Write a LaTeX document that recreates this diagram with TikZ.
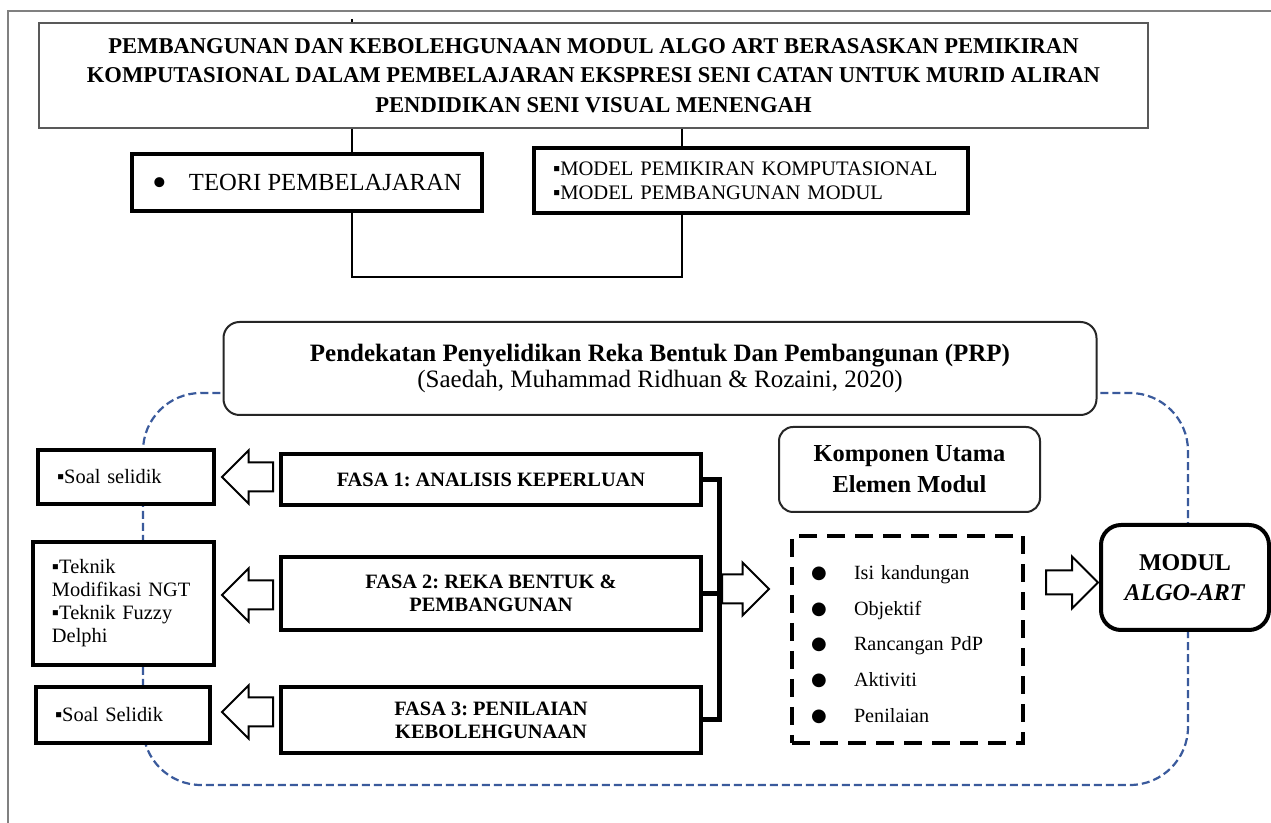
\documentclass[tikz,border=0pt]{standalone}
\usepackage{fontspec}
\setmainfont{Liberation Serif}
\newfontfamily\symfont{DejaVu Sans}
\usetikzlibrary{shapes.arrows}
\definecolor{prpblue}{HTML}{3A5A9C}
\tikzstyle{thinbox} = [draw=gray!70!black, line width=0.7pt, fill=white, inner sep=0pt]
\tikzstyle{thickbox} = [draw, line width=1.8pt, fill=white, inner sep=0pt]
\tikzstyle{listbox} = [thickbox, align=left, inner xsep=9.5pt]
\tikzstyle{roundbox} = [draw=black!85, line width=1pt, rounded corners=7pt, fill=white, inner sep=0pt]
\tikzstyle{hollow} = [single arrow, draw, line width=1pt, fill=white, inner xsep=0pt, inner ysep=6.75pt, single arrow head extend=6pt, minimum height=25.5pt, anchor=tail]
\tikzstyle{conn} = [line width=1.2pt]
\tikzstyle{bracket} = [line width=2.5pt]
\tikzstyle{prpframe} = [prpblue, line width=1.1pt, dash pattern=on 4pt off 2pt, rounded corners=29pt]
\newcommand{\sq}{▪}
\newcommand{\bigdot}[2]{\smash{\raisebox{#2}{\scalebox{#1}{\textbullet}}}}
\newcommand{\dotrow}[1]{\makebox[21.5pt][l]{\raisebox{0.5pt}{\symfont\fontsize{9}{9}\selectfont ●}}#1}
\frenchspacing

\begin{document}
\begin{tikzpicture}[x=0.5pt, y=-0.5pt]
\path[fill=white] (0,0) rectangle (1271,823);
\useasboundingbox (0,0) rectangle (1271,823);
% page frame
\draw[gray, line width=0.8pt] (8,823) -- (8,11) -- (1271,11);
% PRP frame
\draw[prpframe] (143,393) rectangle (1188,785);

% top part
\node[thinbox, minimum width=554.5pt, minimum height=52.5pt, align=center, font=\fontsize{11.3}{14.7}\selectfont\bfseries] (title) at (593.5,75.5)
  {PEMBANGUNAN DAN KEBOLEHGUNAAN MODUL ALGO ART BERASASKAN PEMIKIRAN\\
   KOMPUTASIONAL DALAM PEMBELAJARAN EKSPRESI SENI CATAN UNTUK MURID ALIRAN\\
   PENDIDIKAN SENI VISUAL MENENGAH};
\node[thickbox, minimum width=175pt, minimum height=28.5pt, font=\fontsize{12.3}{14}\selectfont] (teori) at (307,182.5)
  {\bigdot{1.7}{-0.24em}\hspace{11pt}TEORI PEMBELAJARAN};
\node[listbox, text width=198pt, minimum height=32.5pt, font=\fontsize{10.3}{12}\selectfont] (model) at (751,180.5)
  {\sq MODEL PEMIKIRAN KOMPUTASIONAL\\ \sq MODEL PEMBANGUNAN MODUL};

\coordinate (tick) at (352,19);
\coordinate (jn) at (682,277);
\draw[conn] (tick) -- (tick |- title.north);
\draw[conn] (tick |- title.south) -- (tick |- teori.north);
\draw[conn] (jn |- title.south) -- (jn |- model.north);
\draw[conn] (tick |- teori.south) |- (jn) -- (jn |- model.south);

% PRP
\node[roundbox, rounded corners=8pt, minimum width=436.5pt, minimum height=46.5pt, align=center, font=\fontsize{12.5}{13}\selectfont] (prp) at (660,368.5)
  {\textbf{Pendekatan Penyelidikan Reka Bentuk Dan Pembangunan (PRP)}\\
   (Saedah, Muhammad Ridhuan \& Rozaini, 2020)};

% fasa
\node[thickbox, minimum width=210pt, minimum height=25.5pt, align=center, font=\fontsize{10.2}{11.5}\selectfont\bfseries] (fasa1) at (491,479.5)
  {FASA 1: ANALISIS KEPERLUAN};
\node[thickbox, minimum width=210pt, minimum height=36.5pt, align=center, font=\fontsize{10.2}{11.5}\selectfont\bfseries] (fasa2) at (491,593.5)
  {FASA 2: REKA BENTUK \&\\PEMBANGUNAN};
\node[thickbox, minimum width=210pt, minimum height=33pt, align=center, font=\fontsize{10.2}{11.5}\selectfont\bfseries] (fasa3) at (491,720)
  {FASA 3: PENILAIAN\\KEBOLEHGUNAAN};

% kaedah
\node[listbox, text width=69pt, minimum height=27pt, font=\fontsize{10.2}{11.5}\selectfont] (soal1) at (126,477)
  {\sq Soal selidik};
\node[listbox, text width=71.5pt, minimum height=61.5pt, font=\fontsize{10.2}{11.5}\selectfont] (teknik) at (123.5,603.5)
  {\sq Teknik\\Modifikasi NGT\\\sq Teknik Fuzzy\\Delphi};
\node[listbox, text width=68pt, minimum height=28pt, font=\fontsize{10.2}{11.5}\selectfont] (soal3) at (123,715)
  {\sq Soal Selidik};

\node[hollow, shape border rotate=180] (back1) at (274,477) {};
\node[hollow, shape border rotate=180] (back2) at (274,595) {};
\node[hollow, shape border rotate=180] (back3) at (274,712) {};

\coordinate (bus) at (719,600);
\draw[bracket] (fasa1.east) -| (bus) |- (fasa3.east);
\draw[bracket] (fasa2.east) -- (fasa2.east -| bus);
\node[hollow, minimum height=23.5pt] (toelemen) at (721,589) {};

% komponen
\node[roundbox, minimum width=130.5pt, minimum height=42.5pt, align=center, font=\fontsize{12.2}{15.5}\selectfont\bfseries] (komponen) at (909.5,469.5)
  {Komponen Utama\\Elemen Modul};
\node[draw, line width=2pt, dash pattern=on 9pt off 5pt, fill=white, inner xsep=9.5pt, inner ysep=0pt, text width=96.5pt, minimum height=103.5pt, align=left, font=\fontsize{10.1}{17.9}\selectfont] (elemen) at (907.5,639.5)
  {\rule{0pt}{12pt}\dotrow{Isi kandungan}\\\dotrow{Objektif}\\\dotrow{Rancangan PdP}\\\dotrow{Aktiviti}\\\dotrow{Penilaian}};

\node[hollow, minimum height=26pt, inner ysep=5.5pt, single arrow head extend=7pt] (tomodul) at (1045,582.5) {};
\node[draw, line width=2pt, rounded corners=10pt, fill=white, minimum width=84pt, minimum height=52.5pt, align=center, font=\fontsize{12}{15}\selectfont\bfseries] (modul) at (1185,577.5)
  {MODUL\\\textit{ALGO-ART}};
\end{tikzpicture}
\end{document}
